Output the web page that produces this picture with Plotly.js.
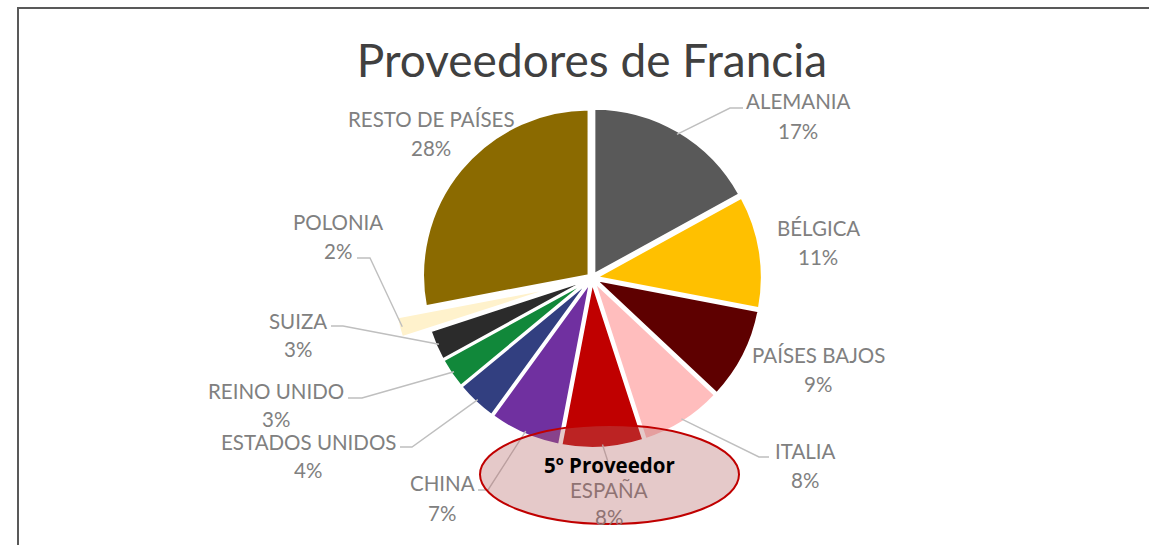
<!DOCTYPE html>
<html><head><meta charset="utf-8">
<script src="https://cdn.plot.ly/plotly-3.0.1.min.js"></script>
<style>html,body{margin:0;padding:0;background:#fff;overflow:hidden}</style>
</head><body><div id="chart" style="width:1149px;height:545px"></div>
<script>
// ---- data ----
const chartTitle = 'Proveedores de Francia';
const countries = ['ALEMANIA','BÉLGICA','PAÍSES BAJOS','ITALIA','ESPAÑA','CHINA','ESTADOS UNIDOS','REINO UNIDO','SUIZA','POLONIA','RESTO DE PAÍSES'];
const shares = [17, 11, 9, 8, 8, 7, 4, 3, 3, 2, 28];
const highlightCountry = 'ESPAÑA';
const highlightText = '5º Proveedor';

// ---- styles ----
const sliceColors = ['#595959','#FFC000','#5E0000','#FFBDBD','#C00000','#7030A0','#323F80','#11883A','#2B2B2B','#FFF2CC','#8B6A00'];
const W = 1149, H = 545;
const CX = 592, CY = 278, R = 166;
const pulls = countries.map(c => c === 'POLONIA' ? 0.2 : 0.025);
const maxPull = Math.max(...pulls);
const half = R * (1 + maxPull);
const px = x => x / W, py = y => 1 - y / H;

// label placement (pixels): name centre, percent centre, leader elbow/end
const labelLayout = {
  'ALEMANIA':        {x:798, y:101, p:131, elbow:[730,108], end:[743,108]},
  'BÉLGICA':         {x:818, y:228, p:257},
  'PAÍSES BAJOS':    {x:818, y:355, p:384},
  'ITALIA':          {x:805, y:451, p:480, elbow:[759,457], end:[769,457]},
  'ESPAÑA':          {x:609, y:490, p:517, elbow:[608,462], end:[608,462]},
  'CHINA':           {x:442, y:483, p:513, elbow:[488,490], end:[478,490]},
  'ESTADOS UNIDOS':  {x:308, y:442, p:470, elbow:[412,447], end:[400,447]},
  'REINO UNIDO':     {x:276, y:391, p:419, elbow:[362,398], end:[348,398]},
  'SUIZA':           {x:298, y:321, p:349, elbow:[343,326], end:[331,326]},
  'POLONIA':         {x:338, y:222, p:251, elbow:[370,258], end:[357,258]},
  'RESTO DE PAÍSES': {x:431, y:119, p:148}
};

const total = shares.reduce((a,b)=>a+b,0);
const annotations = [];
const shapes = [];
const labelFont = {family:'Lato, "Open Sans", sans-serif', size:20.5, color:'#808080'};
const tintedFont = Object.assign({}, labelFont, {color:'#8f7373'});
let cum = 0;
countries.forEach((c, i) => {
  const frac = shares[i] / total;
  const mid = (cum + frac / 2) * 2 * Math.PI;
  cum += frac;
  const L = labelLayout[c];
  const f = c === highlightCountry ? tintedFont : labelFont;
  annotations.push({xref:'paper', yref:'paper', x:px(L.x), y:py(L.y), text:c, showarrow:false, xanchor:'center', yanchor:'middle', borderpad:0, font:f});
  annotations.push({xref:'paper', yref:'paper', x:px(L.x), y:py(L.p), text:Math.round(frac*100)+'%', showarrow:false, xanchor:'center', yanchor:'middle', borderpad:0, font:f});
  if (L.elbow) {
    const rr = R * (0.98 + pulls[i]);
    const sx = CX + rr * Math.sin(mid), sy = CY - rr * Math.cos(mid);
    shapes.push({type:'path', xref:'paper', yref:'paper', layer:'above',
      path:`M ${px(sx)} ${py(sy)} L ${px(L.elbow[0])} ${py(L.elbow[1])} L ${px(L.end[0])} ${py(L.end[1])}`,
      line:{color:'#BFBFBF', width:1.4}});
  }
});

// highlight ellipse
shapes.push({type:'circle', xref:'paper', yref:'paper', layer:'above',
  x0:px(480), x1:px(739), y0:py(524), y1:py(425),
  fillcolor:'rgba(180,100,100,0.35)', line:{color:'#C00000', width:2}});
annotations.push({xref:'paper', yref:'paper', x:px(609), y:py(465), text:'<b>'+highlightText+'</b>', showarrow:false, xanchor:'center', yanchor:'middle', font:{family:'"Open Sans", Lato, sans-serif', size:20.5, color:'#000000'}});

// chart border: top and left edges (two separate lines)
shapes.push({type:'line', xref:'paper', yref:'paper', layer:'above',
  x0:px(18), x1:px(18), y0:0, y1:py(7), line:{color:'#595959', width:2}});
shapes.push({type:'line', xref:'paper', yref:'paper', layer:'above',
  x0:px(17), x1:1, y0:py(8), y1:py(8), line:{color:'#595959', width:2}});

const trace = {
  type:'pie', labels:countries, values:shares, sort:false, direction:'clockwise', rotation:0,
  marker:{colors:sliceColors, line:{color:'#FFFFFF', width:2.5}},
  pull:pulls, textinfo:'none', hoverinfo:'none',
  domain:{x:[px(CX-half), px(CX+half)], y:[py(CY+half), py(CY-half)]}
};

const layout = {
  width:W, height:H, margin:{l:0,r:0,t:0,b:0}, showlegend:false,
  paper_bgcolor:'#FFFFFF',
  title:{text:chartTitle, x:px(592), xanchor:'center', y:py(61), yanchor:'middle', yref:'paper',
    font:{family:'Lato, "Open Sans", sans-serif', size:46, color:'#404040'}},
  annotations:annotations, shapes:shapes
};
Plotly.newPlot('chart', [trace], layout, {staticPlot:true});
</script></body></html>
